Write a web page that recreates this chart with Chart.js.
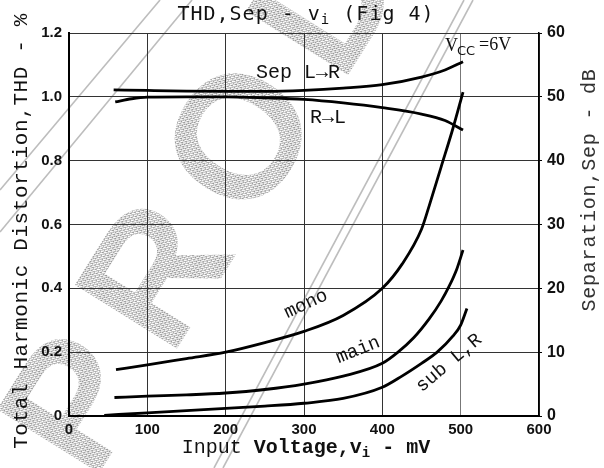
<!DOCTYPE html>
<html>
<head>
<meta charset="utf-8">
<script src="https://cdn.jsdelivr.net/npm/chart.js@4.4.1/dist/chart.umd.min.js"></script>
<style>
  html, body { margin: 0; padding: 0; background: #fff; }
  #wrap { width: 604px; height: 468px; position: relative; }
</style>
</head>
<body>
<div id="wrap"><canvas id="chart"></canvas></div>
<script>
// THD, Sep - vi (Fig 4)

// THD curves (left axis, %)
const voltMono = [60, 100, 150, 200, 250, 300, 350, 400, 425, 450, 460, 475, 490, 503];
const thdMono  = [0.145, 0.16, 0.18, 0.2, 0.23, 0.265, 0.315, 0.4, 0.475, 0.585, 0.66, 0.78, 0.9, 1.015];

const voltMain = [58, 100, 150, 200, 250, 300, 350, 400, 420, 440, 460, 475, 485, 495, 503];
const thdMain  = [0.058, 0.062, 0.066, 0.072, 0.083, 0.1, 0.125, 0.165, 0.2, 0.245, 0.305, 0.36, 0.405, 0.46, 0.52];

const voltSub = [45, 100, 150, 200, 250, 300, 350, 400, 425, 450, 470, 490, 500, 508];
const thdSub  = [0.002, 0.01, 0.017, 0.024, 0.031, 0.04, 0.055, 0.09, 0.125, 0.165, 0.2, 0.25, 0.285, 0.337];

// separation curves (right axis, dB)
const voltSepLR = [57, 100, 150, 200, 250, 300, 350, 400, 450, 480, 503];
const sepLR     = [51.1, 51.0, 50.9, 50.85, 50.85, 51.0, 51.35, 51.9, 53.1, 54.2, 55.5];

const voltSepRL = [59, 80, 100, 150, 200, 250, 300, 350, 400, 450, 480, 503];
const sepRL     = [49.2, 49.7, 49.95, 50.0, 50.0, 49.85, 49.6, 49.05, 48.3, 47.3, 46.3, 44.8];

const xTicks  = [0, 100, 200, 300, 400, 500, 600];
const thdTicks = [0, 0.2, 0.4, 0.6, 0.8, 1.0, 1.2];
const sepTicks = [0, 10, 20, 30, 40, 50, 60];

const MONO = "'Liberation Mono', 'Courier New', monospace";
const pts = (xs, ys) => xs.map((x, i) => ({ x, y: ys[i] }));

function curve(label, data, axis) {
  return {
    label, data, yAxisID: axis,
    borderColor: '#000', borderWidth: 2.8, pointRadius: 0,
    cubicInterpolationMode: 'monotone', fill: false,
  };
}

// stippled grey used by the stamp
function dotPattern(ctx) {
  const c = document.createElement('canvas');
  c.width = 3; c.height = 3;
  const p = c.getContext('2d');
  p.fillStyle = '#fff'; p.fillRect(0, 0, 3, 3);
  p.fillStyle = '#999';
  p.fillRect(0, 0, 1, 1); p.fillRect(1, 1, 1, 1); p.fillRect(2, 2, 1, 1); p.fillRect(2, 0, 1, 1);
  return ctx.createPattern(c, 'repeat');
}

// white page + grey stamp behind the chart
const stamp = {
  id: 'stamp',
  beforeDraw(chart) {
    const ctx = chart.ctx;
    ctx.save();
    ctx.fillStyle = '#fff';
    ctx.fillRect(0, 0, chart.width, chart.height);
    ctx.strokeStyle = '#bdbdbd';
    ctx.lineWidth = 1.6;
    [[214, 468, 464, 0], [223, 468, 473, 0], [0, 190, 160, 0], [0, 232, 192, 0]].forEach(l => {
      ctx.beginPath(); ctx.moveTo(l[0], l[1]); ctx.lineTo(l[2], l[3]); ctx.stroke();
    });
    ctx.translate(93, 483);
    ctx.rotate(-58 * Math.PI / 180);
    ctx.fillStyle = dotPattern(ctx);
    ctx.letterSpacing = '30px';
    ctx.font = "bold 175px 'Liberation Sans', Arial, sans-serif";
    ctx.textBaseline = 'alphabetic';
    ctx.fillText('PRODUCT', 0, 0);
    ctx.restore();
  }
};

function textRun(ctx, parts, x, y) {
  // parts: [text, font, dy]
  let cx = x;
  parts.forEach(p => {
    ctx.font = p[1];
    ctx.fillText(p[0], cx, y + (p[2] || 0));
    cx += ctx.measureText(p[0]).width;
  });
  return cx - x;
}
function runWidth(ctx, parts) {
  let w = 0;
  parts.forEach(p => { ctx.font = p[1]; w += ctx.measureText(p[0]).width; });
  return w;
}

const labels = {
  id: 'labels',
  afterDraw(chart) {
    const ctx = chart.ctx;
    ctx.save();
    ctx.fillStyle = '#111';
    ctx.textBaseline = 'middle';
    ctx.textAlign = 'left';

    // title
    ctx.letterSpacing = '1px';
    const tf = "20px 'DejaVu Sans Mono', monospace";
    const tfs = "14px 'DejaVu Sans Mono', monospace";
    const title = [['THD,Sep - v', tf], ['i', tfs, 5], [' (Fig 4)', tf]];
    textRun(ctx, title, 306 - runWidth(ctx, title) / 2, 15);

    // x axis title
    ctx.letterSpacing = '0px';
    const xf = '20px ' + MONO, xb = 'bold 20px ' + MONO, xs = 'bold 14px ' + MONO;
    const xt = [['Input ', xf], ['Voltage,v', xb], ['i', xs, 5], [' - mV', xb]];
    textRun(ctx, xt, 306 - runWidth(ctx, xt) / 2, 448);

    // left axis title
    ctx.save();
    ctx.translate(21, 231);
    ctx.rotate(-Math.PI / 2);
    ctx.textAlign = 'center';
    ctx.letterSpacing = '0.6px';
    ctx.font = '21px ' + MONO;
    ctx.fillText('Total Harmonic Distortion,THD - %', 0, 0);
    ctx.restore();

    // right axis title
    ctx.save();
    ctx.translate(590, 190);
    ctx.rotate(-Math.PI / 2);
    ctx.textAlign = 'center';
    ctx.letterSpacing = '0.8px';
    ctx.fillStyle = '#333';
    ctx.font = '20px ' + MONO;
    ctx.fillText('Separation,Sep - dB', 0, 0);
    ctx.restore();

    // curve labels
    ctx.letterSpacing = '0px';
    ctx.font = "18px 'Liberation Serif', serif";
    ctx.fillText('V', 445, 46);
    ctx.font = "13px 'DejaVu Sans', sans-serif";
    ctx.fillText('CC', 457, 52);
    ctx.font = "18px 'Liberation Serif', serif";
    ctx.fillText('=6V', 479, 45);

    ctx.font = '20px ' + MONO;
    ctx.fillText('Sep L\u2192R', 256, 73);
    ctx.fillText('R\u2192L', 310, 118);

    const rot = (t, x, y, deg) => {
      ctx.save();
      ctx.translate(x, y);
      ctx.rotate(deg * Math.PI / 180);
      ctx.textAlign = 'center';
      ctx.fillText(t, 0, 0);
      ctx.restore();
    };
    ctx.font = '19px ' + MONO;
    rot('mono', 306, 304, -25);
    rot('main', 358, 350, -22);
    rot('sub L,R', 449, 363, -40);
    ctx.restore();
  }
};

const tickFont = { family: "'Liberation Sans', Arial, sans-serif", size: 15, weight: 'bold' };

new Chart(document.getElementById('chart'), {
  type: 'line',
  data: {
    datasets: [
      curve('mono', pts(voltMono, thdMono), 'y'),
      curve('main', pts(voltMain, thdMain), 'y'),
      curve('sub L,R', pts(voltSub, thdSub), 'y'),
      curve('Sep L\u2192R', pts(voltSepLR, sepLR), 'y2'),
      curve('R\u2192L', pts(voltSepRL, sepRL), 'y2'),
    ],
  },
  options: {
    responsive: true,
    maintainAspectRatio: false,
    animation: false,
    layout: { padding: { top: 33, left: 0, right: 0, bottom: 0 } },
    plugins: { legend: { display: false }, tooltip: { enabled: false } },
    scales: {
      x: {
        type: 'linear', min: 0, max: 600,
        afterBuildTicks: s => { s.ticks = xTicks.map(v => ({ value: v })); },
        afterFit: s => { s.height = 52; },
        ticks: { font: tickFont, color: '#111', padding: 5 },
        grid: { color: c => c.tick && c.tick.value === 500 ? '#777' : '#333', lineWidth: 1, drawTicks: false },
        border: { color: '#000', width: 2 },
      },
      y: {
        position: 'left', min: 0, max: 1.2,
        afterBuildTicks: s => { s.ticks = thdTicks.map(v => ({ value: v })); },
        afterFit: s => { s.width = 69; },
        ticks: { font: tickFont, color: '#111', padding: 7, callback: v => v === 0 ? '0' : v.toFixed(1) },
        grid: { color: '#333', lineWidth: 1, drawTicks: false },
        border: { color: '#000', width: 2 },
      },
      y2: {
        position: 'right', min: 0, max: 60,
        afterBuildTicks: s => { s.ticks = sepTicks.map(v => ({ value: v })); },
        afterFit: s => { s.width = 65; },
        ticks: { font: { ...tickFont, size: 16 }, color: '#111', padding: 5 },
        grid: { drawOnChartArea: false, tickLength: 3, color: '#000' },
        border: { color: '#000', width: 1.5 },
      },
    },
  },
  plugins: [stamp, labels],
});
</script>
</body>
</html>
